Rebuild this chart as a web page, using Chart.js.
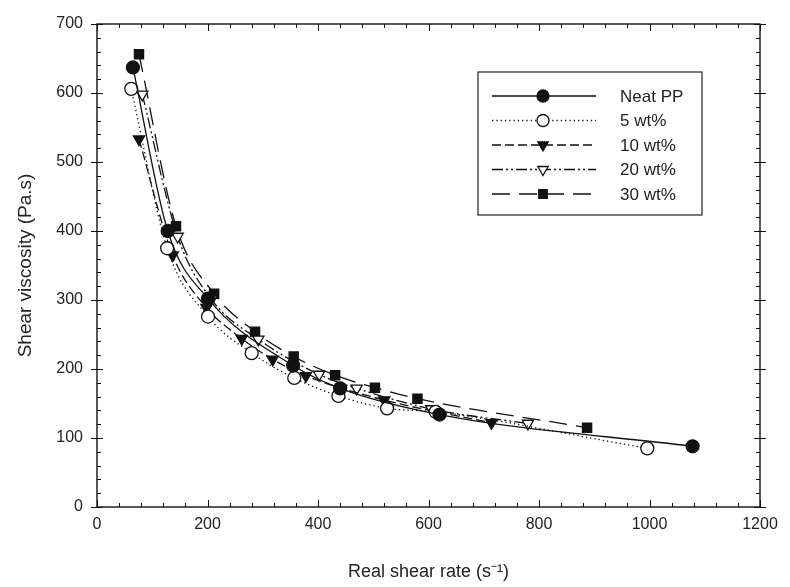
<!DOCTYPE html>
<html>
<head>
<meta charset="utf-8">
<script src="https://cdn.jsdelivr.net/npm/chart.js@4.4.1/dist/chart.umd.min.js"></script>
<style>
  html, body { margin: 0; padding: 0; background: #fff; }
  #wrap { width: 790px; height: 587px; }
</style>
</head>
<body>
<div id="wrap"><canvas id="chart" width="790" height="587"></canvas></div>
<script>
// shear rate (1/s) and viscosity (Pa.s) for each blend
const neatRate = [65, 128, 201, 355, 440, 620, 1078];
const neatVisc = [637, 400, 302, 205, 172, 134, 88];

const wt5Rate = [62, 127, 201, 280, 357, 437, 525, 613, 996];
const wt5Visc = [606, 375, 276, 223, 187, 161, 143, 138, 85];

const wt10Rate = [76, 137, 198, 262, 318, 378, 520, 714];
const wt10Visc = [533, 365, 289, 244, 214, 190, 155, 122];

const wt20Rate = [82, 146, 207, 292, 402, 470, 605, 780];
const wt20Visc = [598, 392, 301, 243, 192, 172, 142, 121];

const wt30Rate = [76, 143, 212, 286, 356, 431, 503, 580, 887];
const wt30Visc = [656, 407, 309, 254, 218, 191, 173, 157, 115];

const xTicks = [0, 200, 400, 600, 800, 1000, 1200];
const yTicks = [0, 100, 200, 300, 400, 500, 600, 700];

const pts = (xs, ys) => xs.map((x, i) => ({ x: x, y: ys[i] }));

function series(label, xs, ys, dash, style, fill, rot) {
  return {
    label: label,
    data: pts(xs, ys),
    borderColor: '#111',
    borderWidth: 1.3,
    borderDash: dash,
    pointStyle: style,
    pointRotation: rot || 0,
    pointRadius: 6.5,
    pointBackgroundColor: fill,
    pointBorderColor: '#111',
    pointBorderWidth: 1.3,
    fill: false,
    tension: 0.4,
    cubicInterpolationMode: 'monotone'
  };
}

const datasets = [
  series('Neat PP', neatRate, neatVisc, [], 'circle', '#111'),
  series('5 wt%', wt5Rate, wt5Visc, [1.3, 3], 'circle', '#fff'),
  series('10 wt%', wt10Rate, wt10Visc, [9, 4], 'triangle', '#111', 180),
  series('20 wt%', wt20Rate, wt20Visc, [11, 3, 2, 3, 2, 3], 'triangle', '#fff', 180),
  series('30 wt%', wt30Rate, wt30Visc, [18, 9], 'rect', '#111')
];

// frame with inward ticks on all four sides
const framePlugin = {
  id: 'frame',
  afterDatasetsDraw(chart) {
    const { ctx, chartArea: a, scales } = chart;
    const x = scales.x, y = scales.y;
    ctx.save();
    ctx.strokeStyle = '#111';
    ctx.lineWidth = 1.4;
    ctx.strokeRect(a.left, a.top, a.right - a.left, a.bottom - a.top);
    ctx.lineWidth = 1;
    ctx.beginPath();
    for (let v = 0; v <= 1200; v += 40) {
      const px = Math.round(x.getPixelForValue(v)) + 0.5;
      const major = v % 200 === 0;
      const len = major ? 7 : 4;
      ctx.moveTo(px, a.bottom); ctx.lineTo(px, a.bottom - len);
      ctx.moveTo(px, a.top); ctx.lineTo(px, a.top + len);
    }
    for (let v = 0; v <= 700; v += 20) {
      const py = Math.round(y.getPixelForValue(v)) + 0.5;
      const major = v % 100 === 0;
      if (major) {
        ctx.moveTo(a.left - 6, py); ctx.lineTo(a.left + 6, py);
        ctx.moveTo(a.right - 6, py); ctx.lineTo(a.right + 6, py);
      } else {
        ctx.moveTo(a.left, py); ctx.lineTo(a.left + 4, py);
        ctx.moveTo(a.right, py); ctx.lineTo(a.right - 4, py);
      }
    }
    ctx.stroke();
    ctx.restore();
  }
};

// boxed legend inside the plot, line sample with marker in the middle
const legendBox = {
  id: 'legendBox',
  afterDraw(chart) {
    const ctx = chart.ctx;
    const bx = 478, by = 72, bw = 224, bh = 143;
    ctx.save();
    ctx.fillStyle = '#fff';
    ctx.fillRect(bx, by, bw, bh);
    ctx.strokeStyle = '#222';
    ctx.lineWidth = 1.2;
    ctx.strokeRect(bx, by, bw, bh);
    chart.data.datasets.forEach((ds, i) => {
      const ry = by + 24 + i * 24.5;
      ctx.strokeStyle = '#111';
      ctx.lineWidth = ds.borderWidth;
      ctx.setLineDash(ds.borderDash);
      ctx.beginPath();
      ctx.moveTo(bx + 14, ry);
      ctx.lineTo(bx + 118, ry);
      ctx.stroke();
      ctx.setLineDash([]);
      ctx.fillStyle = ds.pointBackgroundColor;
      Chart.helpers.drawPoint(ctx, {
        pointStyle: ds.pointStyle,
        rotation: ds.pointRotation,
        radius: 6,
        borderWidth: ds.pointBorderWidth
      }, bx + 65, ry);
      ctx.fillStyle = '#222';
      ctx.font = '17px "Liberation Sans", Arial, sans-serif';
      ctx.textBaseline = 'middle';
      ctx.fillText(ds.label, bx + 142, ry + 1);
    });
    ctx.restore();
  }
};

new Chart(document.getElementById('chart'), {
  type: 'line',
  data: { datasets: datasets },
  plugins: [framePlugin, legendBox],
  options: {
    responsive: false,
    animation: false,
    layout: { padding: { top: 24, right: 30, left: 0, bottom: 0 } },
    plugins: { legend: { display: false }, tooltip: { enabled: false } },
    scales: {
      x: {
        type: 'linear',
        min: 0, max: 1200,
        afterBuildTicks(scale) { scale.ticks = xTicks.map(v => ({ value: v })); },
        afterFit(scale) { scale.height = 80; },
        grid: { display: false, drawTicks: false },
        border: { display: false },
        ticks: {
          color: '#222',
          padding: 8,
          maxRotation: 0,
          callback: v => String(v),
          font: { family: '"Liberation Sans Narrow", "Liberation Sans", Arial, sans-serif', size: 16 }
        },
        title: {
          display: true,
          text: 'Real shear rate (s\u207B\u00B9)',
          color: '#222',
          padding: { top: 16 },
          font: { family: '"Liberation Sans", Arial, sans-serif', size: 18 }
        }
      },
      y: {
        type: 'linear',
        min: 0, max: 700,
        afterBuildTicks(scale) { scale.ticks = yTicks.map(v => ({ value: v })); },
        afterFit(scale) { scale.width = 97; },
        grid: { display: false, drawTicks: false },
        border: { display: false },
        ticks: {
          color: '#222',
          padding: 14,
          callback: v => String(v),
          font: { family: '"Liberation Sans", Arial, sans-serif', size: 16 }
        },
        title: {
          display: true,
          text: 'Shear viscosity (Pa.s)',
          color: '#222',
          padding: { top: 14, bottom: 0 },
          font: { family: '"Liberation Sans", Arial, sans-serif', size: 19 }
        }
      }
    }
  }
});
</script>
</body>
</html>
